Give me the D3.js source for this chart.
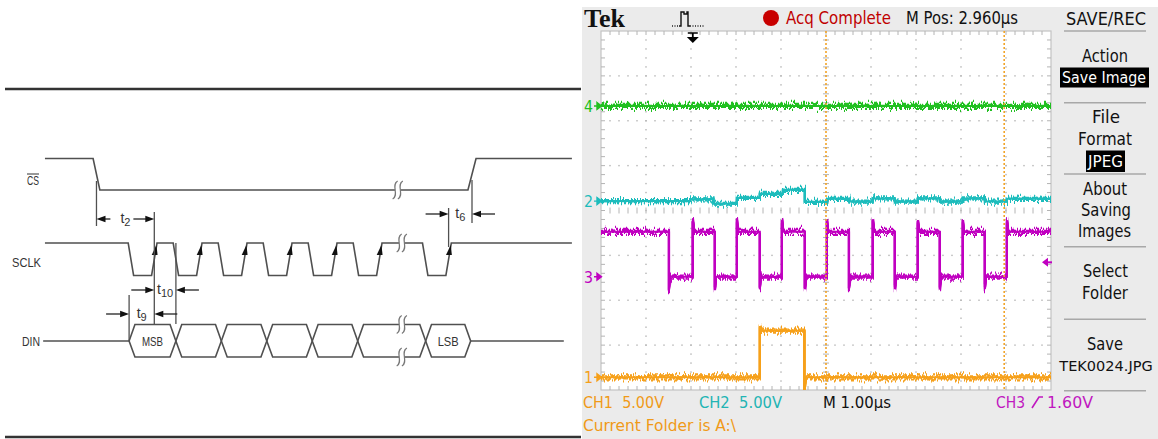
<!DOCTYPE html>
<html><head><meta charset="utf-8">
<script src="https://cdn.jsdelivr.net/npm/d3@7/dist/d3.min.js"></script>
<style>html,body{margin:0;padding:0;background:#fff;}svg{display:block;}</style>
</head><body>
<svg id="chart" width="1158" height="439"></svg>
<script>
// ================= Timing diagram data (x in SCLK periods) =================
const signalNames = ["CS", "SCLK", "DIN"];
const csEdges = [-1.89, -0.82, -0.67, 7.51, 7.69, 9.82];      // start, fall start, fall end, rise start, rise end, end
const sclkSpan = [-1.89, 9.82];
const sclkCycleStarts = [-0.04, 0.96, 1.96, 2.96, 3.96, 4.96, 6.50];
const sclkCycleShape = [0.12, 0.52, 0.64];                   // fall end, low end, rise end (relative)
const dinSpan = [-1.93, 9.64];
const dinBounds = [-0.02, 1.02, 2.03, 3.04, 4.05, 5.06, 6.57, 7.57];
const dinCellLabels = ["MSB", "", "", "", "", "", "LSB"];
const dinSlant = 0.13;
const breakMarks = [{sig: "CS", at: 5.95}, {sig: "SCLK", at: 6.04}, {sig: "DIN", at: 6.04}];
const timingLabels = ["2", "6", "10", "9"];
const timingFrom = [-0.745, 7.08, 0.54, -0.02];
const timingTo = [0.54, 7.60, 1.02, 0.54];
const timingStyle = ["out", "in", "in", "in"];

// ================= Oscilloscope data =================
const scopeTimeDomain = [0, 10];     // µs across screen (1.00 µs/div)
const scopeDivDomain = [-4, 4];
const voltsPerDiv = 5;
const chOffsetDiv = {1: -3.717, 2: 0.21, 3: -1.475, 4: 2.33};
const ch3FallTimes = [1.51, 2.53, 3.53, 4.53, 5.51, 6.53, 7.53, 8.53];
const ch3RiseTimes = [2.04, 3.02, 4.02, 5.02, 6.04, 7.04, 8.04, 9.02];
const ch3Levels = {high: 5.0, low: 0, over: 6.3, under: -1.4};
const ch1PulseTimes = [3.53, 4.52];
const ch1Levels = {high: 5.2, low: 0, over: 5.7, under: -1.45};
const ch2StepTimes = [0, 1.98, 2.50, 3.02, 3.53, 4.04, 4.53, 5.03, 5.52, 6.04, 6.53, 7.04, 7.53, 8.04, 8.53, 9.02, 10];
const ch2StepVolts = [0, 0.2, -0.3, 0.35, 0.8, 1.25, -0.1, 0.25, -0.05, 0.3, -0.05, 0.3, -0.05, 0.3, -0.05, 0.25];
const ch4Volts = 0;
const cursorTimes = [5.0, 8.96];
const triggerTime = 2.04;
const triggerLevelV = 1.6;
const menuItems = ["Action", "Save Image", "File", "Format", "JPEG", "About", "Saving", "Images", "Select", "Folder", "Save", "TEK0024.JPG"];
const bottomLabels = ["CH1  5.00V", "CH2  5.00V", "M 1.00µs", "CH3", "1.60V", "Current Folder is A:\\"];

// ===================================================================
const svg = d3.select("#chart");
const colors = {1: "#f6a01a", 2: "#1dbcbc", 3: "#c000c0", 4: "#20c020"};
const line = d3.line();

// ---------- LEFT: timing diagram ----------
const L = svg.append("g");
const tx = d3.scaleLinear().domain([0, 1]).range([130, 175]);
const lv = {CS: {hi: 158.5, lo: 190}, SCLK: {hi: 243, lo: 275.5}, DIN: {mid: 341, top: 324.5, bot: 357}};
const gray = "#505050";

L.append("line").attr("x1", 5).attr("x2", 581).attr("y1", 89).attr("y2", 89).attr("stroke", "#333").attr("stroke-width", 2.4);
L.append("line").attr("x1", 5).attr("x2", 581).attr("y1", 437).attr("y2", 437).attr("stroke", "#333").attr("stroke-width", 2.4);

// CS
const csPts = [[csEdges[0], lv.CS.hi], [csEdges[1], lv.CS.hi], [csEdges[2], lv.CS.lo], [csEdges[3], lv.CS.lo], [csEdges[4], lv.CS.hi], [csEdges[5], lv.CS.hi]];
L.append("path").attr("d", line(csPts.map(p => [tx(p[0]), p[1]]))).attr("fill", "none").attr("stroke", gray).attr("stroke-width", 1.6);

// SCLK
const sPts = [[sclkSpan[0], lv.SCLK.hi]];
sclkCycleStarts.forEach(c => {
  sPts.push([c, lv.SCLK.hi], [c + sclkCycleShape[0], lv.SCLK.lo], [c + sclkCycleShape[1], lv.SCLK.lo], [c + sclkCycleShape[2], lv.SCLK.hi]);
});
sPts.push([sclkSpan[1], lv.SCLK.hi]);
L.append("path").attr("d", line(sPts.map(p => [tx(p[0]), p[1]]))).attr("fill", "none").attr("stroke", gray).attr("stroke-width", 1.6);
sclkCycleStarts.forEach(c => {
  const xr = tx(c + sclkCycleShape[2]);
  L.append("path").attr("d", `M${xr - 0.6},${lv.SCLK.hi + 2}L${xr - 5.3},${lv.SCLK.hi + 12}L${xr + 0.6},${lv.SCLK.hi + 12}Z`).attr("fill", "#111");
});

// DIN
L.append("line").attr("x1", tx(dinSpan[0])).attr("x2", tx(dinBounds[0])).attr("y1", lv.DIN.mid).attr("y2", lv.DIN.mid).attr("stroke", gray).attr("stroke-width", 1.6);
L.append("line").attr("x1", tx(dinBounds[dinBounds.length - 1])).attr("x2", tx(dinSpan[1])).attr("y1", lv.DIN.mid).attr("y2", lv.DIN.mid).attr("stroke", gray).attr("stroke-width", 1.6);
for (let i = 0; i < dinBounds.length - 1; i++) {
  const a = dinBounds[i], b = dinBounds[i + 1];
  const hex = [[a, lv.DIN.mid], [a + dinSlant, lv.DIN.top], [b - dinSlant, lv.DIN.top], [b, lv.DIN.mid], [b - dinSlant, lv.DIN.bot], [a + dinSlant, lv.DIN.bot]];
  L.append("path").attr("d", line(hex.map(p => [tx(p[0]), p[1]])) + "Z").attr("fill", "none").attr("stroke", gray).attr("stroke-width", 1.6);
  if (dinCellLabels[i]) {
    L.append("text").attr("x", tx((a + b) / 2)).attr("y", lv.DIN.mid + 5).attr("text-anchor", "middle")
      .attr("font-family", "Liberation Sans, Arial, sans-serif").attr("font-size", 13.5).attr("fill", "#333")
      .attr("textLength", 21).attr("lengthAdjust", "spacingAndGlyphs").text(dinCellLabels[i]);
  }
}

// break marks
function squiggle(cx, cy) {
  L.append("rect").attr("x", cx - 2.6).attr("y", cy - 8).attr("width", 5.2).attr("height", 16).attr("fill", "#fff");
  [-2.6, 2.6].forEach(d => {
    L.append("path").attr("d", `M${cx + d + 2.5},${cy - 9}C${cx + d - 4.5},${cy - 5} ${cx + d + 4.5},${cy + 5} ${cx + d - 2.5},${cy + 9}`)
      .attr("fill", "none").attr("stroke", "#777").attr("stroke-width", 1.2);
  });
}
breakMarks.forEach(b => {
  if (b.sig === "CS") squiggle(tx(b.at), lv.CS.lo);
  if (b.sig === "SCLK") squiggle(tx(b.at), lv.SCLK.hi);
  if (b.sig === "DIN") { squiggle(tx(b.at), lv.DIN.top); squiggle(tx(b.at), lv.DIN.bot); }
});

// signal names
const nameFont = "Liberation Sans, Arial, sans-serif";
L.append("text").attr("x", 27).attr("y", 185).attr("font-family", nameFont).attr("font-size", 13.5).attr("fill", "#333")
  .attr("textLength", 12).attr("lengthAdjust", "spacingAndGlyphs").text(signalNames[0]);
L.append("line").attr("x1", 27).attr("x2", 39).attr("y1", 174).attr("y2", 174).attr("stroke", "#333").attr("stroke-width", 1);
L.append("text").attr("x", 12).attr("y", 267).attr("font-family", nameFont).attr("font-size", 13.5).attr("fill", "#333")
  .attr("textLength", 29).attr("lengthAdjust", "spacingAndGlyphs").text(signalNames[1]);
L.append("text").attr("x", 22).attr("y", 346).attr("font-family", nameFont).attr("font-size", 13.5).attr("fill", "#333")
  .attr("textLength", 18).attr("lengthAdjust", "spacingAndGlyphs").text(signalNames[2]);

// timing annotations
const rowY = [219, 214, 290, 314];
const extLines = [
  [[timingFrom[0], 181, 226], [timingTo[0], 212, 324]],
  [[timingFrom[1], 208, 247], [timingTo[1], 180, 223]],
  [[timingTo[2], 243, 324]],
  [[timingFrom[3], 295, 341]]
];
extLines.forEach(ls => ls.forEach(l => {
  L.append("line").attr("x1", tx(l[0])).attr("x2", tx(l[0])).attr("y1", l[1]).attr("y2", l[2]).attr("stroke", gray).attr("stroke-width", 1.3);
}));
function arrow(tip, y, dir, tail) {
  L.append("line").attr("x1", tail).attr("x2", tip - dir * 6).attr("y1", y).attr("y2", y).attr("stroke", "#222").attr("stroke-width", 1.3);
  L.append("path").attr("d", `M${tip},${y}L${tip - dir * 9},${y - 3.3}L${tip - dir * 9},${y + 3.3}Z`).attr("fill", "#111");
}
timingLabels.forEach((lab, i) => {
  const a = tx(timingFrom[i]), b = tx(timingTo[i]), y = rowY[i], m = (a + b) / 2;
  if (timingStyle[i] === "out") { arrow(a, y, -1, m - 15); arrow(b, y, 1, m + 8); }
  else { arrow(a, y, 1, a - 23); arrow(b, y, -1, b + 23); }
  const t = L.append("text").attr("x", m).attr("y", y + 4).attr("text-anchor", "middle").attr("font-family", nameFont).attr("font-size", 14).attr("fill", "#333");
  t.append("tspan").text("t");
  t.append("tspan").attr("dy", 3).attr("font-size", 11).text(lab);
});

// ---------- RIGHT: oscilloscope ----------
const R = svg.append("g");
R.append("rect").attr("x", 582).attr("y", 7).attr("width", 576).attr("height", 432).attr("fill", "#ebebeb");
const sx = d3.scaleLinear().domain(scopeTimeDomain).range([601, 1051]);
const sy = d3.scaleLinear().domain(scopeDivDomain).range([390, 31]);
const gx0 = sx(0), gx1 = sx(10), gy0 = sy(4), gy1 = sy(-4);
R.append("rect").attr("x", gx0).attr("y", gy0).attr("width", gx1 - gx0).attr("height", gy1 - gy0).attr("fill", "#fff").attr("stroke", "#c4c4c4").attr("stroke-width", 1.2);

const grid = R.append("g");
const dotC = "#b4b4b4";
for (let i = 1; i < 10; i++) {
  if (i === 5) continue;
  for (let k = 1; k < 40; k++) grid.append("rect").attr("x", sx(i) - 0.7).attr("y", sy(-4 + k * 0.2) - 0.7).attr("width", 1.4).attr("height", 1.4).attr("fill", dotC);
}
for (let j = -3; j <= 3; j++) {
  if (j === 0) continue;
  for (let k = 1; k < 50; k++) grid.append("rect").attr("x", sx(k * 0.2) - 0.7).attr("y", sy(j) - 0.7).attr("width", 1.4).attr("height", 1.4).attr("fill", dotC);
}
for (let k = 1; k < 50; k++) {
  const x = sx(k * 0.2);
  grid.append("line").attr("x1", x).attr("x2", x).attr("y1", sy(0) - 3).attr("y2", sy(0) + 3).attr("stroke", dotC);
  grid.append("line").attr("x1", x).attr("x2", x).attr("y1", gy0).attr("y2", gy0 + 4).attr("stroke", dotC);
  grid.append("line").attr("x1", x).attr("x2", x).attr("y1", gy1 - 4).attr("y2", gy1).attr("stroke", dotC);
}
for (let k = 1; k < 40; k++) {
  const y = sy(-4 + k * 0.2);
  grid.append("line").attr("x1", sx(5) - 3).attr("x2", sx(5) + 3).attr("y1", y).attr("y2", y).attr("stroke", dotC);
  grid.append("line").attr("x1", gx0).attr("x2", gx0 + 4).attr("y1", y).attr("y2", y).attr("stroke", dotC);
  grid.append("line").attr("x1", gx1 - 4).attr("x2", gx1).attr("y1", y).attr("y2", y).attr("stroke", dotC);
}

// noise filters (visual texture of the traces)
const defs = svg.append("defs");
[["nz1", 3], ["nz2", 11], ["nz3", 27]].forEach(([id, seed]) => {
  const f = defs.append("filter").attr("id", id).attr("filterUnits", "userSpaceOnUse").attr("x", 0).attr("y", 0).attr("width", 1158).attr("height", 439).attr("color-interpolation-filters", "sRGB");
  f.append("feTurbulence").attr("type", "fractalNoise").attr("baseFrequency", "0.7 0.015").attr("numOctaves", 2).attr("seed", seed).attr("result", "t");
  f.append("feColorMatrix").attr("in", "t").attr("type", "matrix").attr("values", "1 0 0 0 0  0 0 0 0 0.5  0 0 0 0 0  0 0 0 0 1").attr("result", "m");
  f.append("feDisplacementMap").attr("in", "SourceGraphic").attr("in2", "m").attr("scale", 15).attr("xChannelSelector", "G").attr("yChannelSelector", "R");
});
defs.append("clipPath").attr("id", "gclip").append("rect").attr("x", gx0).attr("y", gy0 - 2).attr("width", gx1 - gx0).attr("height", gy1 - gy0 + 2);

const vy = (ch, v) => sy(chOffsetDiv[ch] + v / voltsPerDiv);
const ch4Pts = [[0, ch4Volts], [10, ch4Volts]];
const ch2Pts = [];
ch2StepVolts.forEach((v, i) => { ch2Pts.push([ch2StepTimes[i], v], [ch2StepTimes[i + 1], v]); });
const ch3Edges = ch3FallTimes.map(t => ({t, f: true})).concat(ch3RiseTimes.map(t => ({t, f: false}))).sort((a, b) => a.t - b.t);
const ch3Pts = [[0, ch3Levels.high]];
ch3Edges.forEach(e => {
  if (e.f) ch3Pts.push([e.t, ch3Levels.high], [e.t, ch3Levels.under], [e.t + 0.03, ch3Levels.low]);
  else ch3Pts.push([e.t, ch3Levels.low], [e.t, ch3Levels.over], [e.t + 0.03, ch3Levels.high]);
});
ch3Pts.push([10, ch3Levels.high]);
const ch1Pts = [[0, ch1Levels.low], [ch1PulseTimes[0], ch1Levels.low], [ch1PulseTimes[0], ch1Levels.over], [ch1PulseTimes[0] + 0.04, ch1Levels.high],
  [ch1PulseTimes[1], ch1Levels.high], [ch1PulseTimes[1], ch1Levels.under], [ch1PulseTimes[1] + 0.03, ch1Levels.low], [10, ch1Levels.low]];

const traces = R.append("g").attr("clip-path", "url(#gclip)");
[[4, ch4Pts], [2, ch2Pts], [3, ch3Pts], [1, ch1Pts]].forEach(([ch, pts]) => {
  const d = line(pts.map(p => [sx(p[0]), vy(ch, p[1])]));
  ["nz1", "nz2", "nz3"].forEach(fid => {
    traces.append("path").attr("d", d).attr("fill", "none").attr("stroke", colors[ch]).attr("stroke-width", 2.2).attr("filter", `url(#${fid})`);
  });
  traces.append("path").attr("d", d).attr("fill", "none").attr("stroke", colors[ch]).attr("stroke-width", 2);
});

// cursors
cursorTimes.forEach(t => {
  R.append("line").attr("x1", sx(t)).attr("x2", sx(t)).attr("y1", gy0).attr("y2", gy1).attr("stroke", "#f2a428").attr("stroke-width", 1.6).attr("stroke-dasharray", "2,2");
});

// channel ground markers
const tekFont = "DejaVu Sans, Liberation Sans, sans-serif";
[4, 2, 3, 1].forEach(ch => {
  const y = vy(ch, 0);
  R.append("text").attr("x", 584).attr("y", y + 6).attr("font-family", tekFont).attr("font-size", 16).attr("fill", colors[ch])
    .attr("textLength", 9).attr("lengthAdjust", "spacingAndGlyphs").text(String(ch));
  R.append("path").attr("d", `M594,${y}H598M597,${y - 3.5}L601.5,${y}L597,${y + 3.5}Z`).attr("fill", colors[ch]).attr("stroke", colors[ch]).attr("stroke-width", 1.4);
});
const tly = vy(3, triggerLevelV);
R.append("path").attr("d", `M1042,${tly}L1048,${tly - 4.5}L1048,${tly + 4.5}Z`).attr("fill", colors[3]);
R.append("line").attr("x1", 1047).attr("x2", 1052).attr("y1", tly).attr("y2", tly).attr("stroke", colors[3]).attr("stroke-width", 2);
const tpx = sx(triggerTime);
R.append("line").attr("x1", tpx - 5).attr("x2", tpx + 5).attr("y1", 33).attr("y2", 33).attr("stroke", "#000").attr("stroke-width", 1.5);
R.append("line").attr("x1", tpx).attr("x2", tpx).attr("y1", 33).attr("y2", 38).attr("stroke", "#000").attr("stroke-width", 1.8);
R.append("path").attr("d", `M${tpx - 6},37L${tpx + 6},37L${tpx},43Z`).attr("fill", "#000");

// header
R.append("text").attr("x", 584).attr("y", 27).attr("font-family", "Liberation Serif, Times New Roman, serif").attr("font-weight", "bold").attr("font-size", 25)
  .attr("textLength", 41).attr("lengthAdjust", "spacingAndGlyphs").attr("fill", "#111").text("Tek");
R.append("path").attr("d", "M672,26H679M690,26H705").attr("stroke", "#222").attr("stroke-width", 1.4).attr("stroke-dasharray", "1,1.5");
R.append("path").attr("d", "M679,26H681V12H684V14H687V12H688V26H690").attr("fill", "none").attr("stroke", "#111").attr("stroke-width", 1.4);
R.append("circle").attr("cx", 771).attr("cy", 18).attr("r", 8).attr("fill", "#c80000");
function ttext(x, y, s, len, fill, size, anchor) {
  const t = R.append("text").attr("x", x).attr("y", y).attr("font-family", tekFont).attr("font-size", size || 17).attr("fill", fill || "#111")
    .attr("text-anchor", anchor || "start").style("white-space", "pre").text(s);
  if (len) t.attr("textLength", len).attr("lengthAdjust", "spacingAndGlyphs");
  return t;
}
ttext(786, 24, "Acq Complete", 105, "#c00000");
ttext(906, 24, "M Pos: 2.960µs", 112, "#111");
ttext(1066, 25, "SAVE/REC", 80, "#111");

// menu
[31, 102.7, 174, 246.7, 319.3, 390.7].forEach(y => {
  R.append("line").attr("x1", 1064).attr("x2", 1146).attr("y1", y).attr("y2", y).attr("stroke", "#a8a8a8").attr("stroke-width", 1.5);
});
R.append("rect").attr("x", 1060).attr("y", 67.5).attr("width", 89).attr("height", 20).attr("fill", "#000");
R.append("rect").attr("x", 1086).attr("y", 150.5).attr("width", 39).attr("height", 21.5).attr("fill", "#000");
const menuY = [62, 83, 123, 145, 167, 195, 216, 237, 277, 299, 350, 371];
const menuX = [1082, 1062, 1092, 1078, 1088, 1083, 1081, 1078, 1083, 1082, 1087, 1062];
const menuW = [46, 84, 28, 54, 35, 44, 50, 53, 45, 46, 36, 89];
menuItems.forEach((s, i) => {
  const inv = (s === "Save Image" || s === "JPEG");
  if (i === 11) ttext(1106, menuY[i], s, null, "#111", 14.5, "middle");
  else ttext(menuX[i], menuY[i], s, menuW[i], inv ? "#fff" : "#111", inv ? 16.5 : 17);
});

// bottom labels
ttext(583, 408, bottomLabels[0], 81, "#f09a18", 16);
ttext(699, 408, bottomLabels[1], 83, "#22b4b4", 16);
ttext(823, 408, bottomLabels[2], 68, "#111", 16);
ttext(996, 408, bottomLabels[3], 29, "#c018c0", 16);
R.append("path").attr("d", "M1032,408L1039,397H1043").attr("fill", "none").attr("stroke", "#c018c0").attr("stroke-width", 1.6);
ttext(1047, 408, bottomLabels[4], 46, "#c018c0", 16);
ttext(583, 431, bottomLabels[5], 153, "#f09a18", 16);
</script>
</body></html>
